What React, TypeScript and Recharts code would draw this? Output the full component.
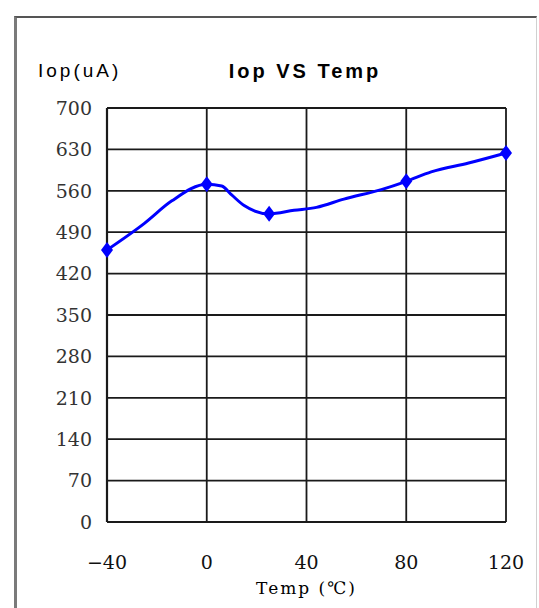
import * as React from 'react'
import { LineChart, CartesianGrid, XAxis, YAxis, Line } from 'recharts'

// temperature (°C) and operating current (uA)
const temps = [-40, -25, -14, 0, 6, 10, 15, 25, 35, 44, 55, 70, 80, 90, 105, 120]
const iop = [460, 505, 543, 571, 568, 553, 535, 521, 527, 532, 546, 562, 576, 592, 607, 624]
// measured points drawn with a diamond marker
const measured = [-40, 0, 25, 80, 120]

const xTicks = [-40, 0, 40, 80, 120]
const yTicks = [0, 70, 140, 210, 280, 350, 420, 490, 560, 630, 700]

const data = temps.map((t, i) => ({ temp: t, iop: iop[i], mark: measured.includes(t) }))

const serif = '"DejaVu Serif", "Liberation Serif", serif'
const sans = '"Liberation Sans", Arial, sans-serif'

const Diamond = (props: any) => {
  const { cx, cy, payload, index } = props
  if (!payload || !payload.mark) return <g key={index} />
  return (
    <path
      key={index}
      d={`M${cx},${cy - 8} L${cx + 6},${cy} L${cx},${cy + 8} L${cx - 6},${cy} Z`}
      fill="#0000ff"
      stroke="none"
    />
  )
}

const fmtX = (v: number) => (v < 0 ? `\u2212${Math.abs(v)}` : `${v}`)

export default function App() {
  return (
    <div style={{ position: 'absolute', left: 0, top: 0, width: 539, height: 608, background: '#fff' }}>
      <div
        style={{
          position: 'absolute',
          left: 14,
          top: 16,
          width: 519,
          height: 600,
          borderLeft: '3px solid #7a7a7a',
          borderTop: '2px solid #555',
          borderRight: '1px solid #d0d0d0',
        }}
      />
      <div
        style={{
          position: 'absolute',
          left: 38,
          top: 60,
          fontFamily: sans,
          fontSize: 19,
          letterSpacing: 3,
          color: '#000',
        }}
      >
        Iop(uA)
      </div>
      <div
        style={{
          position: 'absolute',
          left: 195,
          width: 220,
          top: 60,
          textAlign: 'center',
          fontFamily: sans,
          fontWeight: 'bold',
          fontSize: 20,
          letterSpacing: 3,
          color: '#000',
        }}
      >
        Iop VS Temp
      </div>
      <div style={{ position: 'absolute', left: 0, top: 0 }}>
        <LineChart
          width={539}
          height={608}
          data={data}
          margin={{ top: 108, right: 33, bottom: 6, left: 0 }}
        >
          <CartesianGrid stroke="#1a1a1a" strokeWidth={1.8} />
          <XAxis
            type="number"
            dataKey="temp"
            domain={[-40, 120]}
            ticks={xTicks}
            tickFormatter={fmtX}
            height={80}
            tickLine={false}
            axisLine={{ stroke: '#1a1a1a', strokeWidth: 2.2 }}
            tickMargin={28}
            tick={{ fill: '#111', fontFamily: serif, fontSize: 19 }}
            label={{
              value: 'Temp (\u2103)',
              position: 'insideBottom',
              offset: 8,
              fill: '#000',
              fontFamily: serif,
              fontSize: 17,
              letterSpacing: 2,
            }}
          />
          <YAxis
            type="number"
            domain={[0, 700]}
            ticks={yTicks}
            width={107}
            tickLine={false}
            axisLine={{ stroke: '#1a1a1a', strokeWidth: 2.2 }}
            tickMargin={9}
            tick={{ fill: '#333', fontFamily: serif, fontSize: 19 }}
          />
          <Line
            type="monotone"
            dataKey="iop"
            stroke="#0000ff"
            strokeWidth={3}
            dot={<Diamond />}
            activeDot={false}
            isAnimationActive={false}
          />
        </LineChart>
      </div>
    </div>
  )
}
